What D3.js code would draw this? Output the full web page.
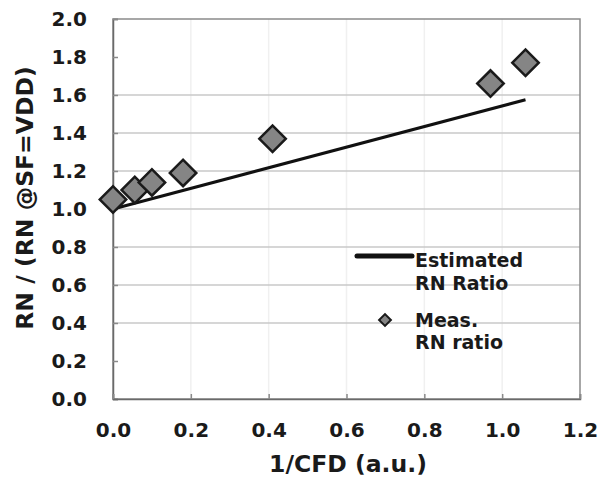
<!DOCTYPE html>
<html>
<head>
<meta charset="utf-8">
<script src="https://cdn.jsdelivr.net/npm/d3@7"></script>
<style>
  body { margin: 0; background: #fff; }
  text { font-family: "DejaVu Sans", Verdana, sans-serif; font-weight: bold; fill: #1a1a1a; }
</style>
</head>
<body>
<div id="chart"></div>
<script>
// measured RN ratio
const measX = [0.0, 0.056, 0.10, 0.18, 0.41, 0.97, 1.06];
const measY = [1.05, 1.10, 1.14, 1.19, 1.37, 1.66, 1.77];
// estimated RN ratio (line)
const estX = [0.0, 1.06];
const estY = [1.0, 1.575];

const xTicks = [0, 0.2, 0.4, 0.6, 0.8, 1.0, 1.2];
const yTicks = [0, 0.2, 0.4, 0.6, 0.8, 1.0, 1.2, 1.4, 1.6, 1.8, 2.0];
const yGrid = [0.4, 0.6, 0.8, 1.0, 1.2, 1.4, 1.6];

const width = 601, height = 481;
const margin = { left: 113, right: 21, top: 19, bottom: 82 };

const svg = d3.select("#chart").append("svg")
    .attr("width", width)
    .attr("height", height);

const x = d3.scaleLinear().domain([0, 1.2]).range([margin.left, width - margin.right]);
const y = d3.scaleLinear().domain([0, 2.0]).range([height - margin.bottom, margin.top]);

// faint vertical grid
svg.append("g")
    .selectAll("line")
    .data(xTicks.slice(1, -1))
    .join("line")
    .attr("x1", d => x(d)).attr("x2", d => x(d))
    .attr("y1", y(0)).attr("y2", y(2))
    .attr("stroke", "#f0f0f0")
    .attr("stroke-width", 1.5);

// horizontal grid
svg.append("g")
    .selectAll("line")
    .data(yGrid)
    .join("line")
    .attr("x1", x(0)).attr("x2", x(1.2))
    .attr("y1", d => y(d)).attr("y2", d => y(d))
    .attr("stroke", "#c8c8c8")
    .attr("stroke-width", 1.5);

// frame
svg.append("rect")
    .attr("x", x(0)).attr("y", y(2))
    .attr("width", x(1.2) - x(0)).attr("height", y(0) - y(2))
    .attr("fill", "none")
    .attr("stroke", "#8a8a8a")
    .attr("stroke-width", 1.5);

// axes
const yAxis = svg.append("g")
    .attr("transform", `translate(${x(0)},0)`)
    .call(d3.axisLeft(y).tickValues(yTicks).tickFormat(d3.format(".1f")).tickSize(-5).tickPadding(26));
const xAxis = svg.append("g")
    .attr("transform", `translate(0,${y(0)})`)
    .call(d3.axisBottom(x).tickValues(xTicks).tickFormat(d3.format(".1f")).tickSize(-5).tickPadding(24));

[yAxis, xAxis].forEach(g => {
    g.select(".domain").attr("stroke", "#6a6a6a").attr("stroke-width", 1.5);
    g.selectAll(".tick line").attr("stroke", "#8a8a8a").attr("stroke-width", 1.5);
    g.selectAll(".tick text")
        .attr("font-family", "DejaVu Sans, Verdana, sans-serif")
        .attr("font-weight", "bold")
        .attr("font-size", 20)
        .attr("fill", "#1a1a1a");
});

// estimated line
const est = estX.map((v, i) => [v, estY[i]]);
svg.append("path")
    .datum(est)
    .attr("d", d3.line().x(d => x(d[0])).y(d => y(d[1])))
    .attr("fill", "none")
    .attr("stroke", "#111")
    .attr("stroke-width", 3);

// measured diamonds
const diamond = d3.symbol().type(d3.symbolSquare).size(350);
svg.append("g")
    .selectAll("path")
    .data(measX.map((v, i) => [v, measY[i]]))
    .join("path")
    .attr("d", diamond)
    .attr("transform", d => `translate(${x(d[0])},${y(d[1])}) rotate(45)`)
    .attr("fill", "#858585")
    .attr("stroke", "#1a1a1a")
    .attr("stroke-width", 2.5);

// legend
const leg = svg.append("g");
leg.append("line")
    .attr("x1", 357).attr("x2", 412)
    .attr("y1", 256).attr("y2", 256)
    .attr("stroke", "#111").attr("stroke-width", 5)
    .attr("stroke-linecap", "round");
leg.append("text").attr("x", 415).attr("y", 267).attr("font-size", 19).text("Estimated");
leg.append("text").attr("x", 415).attr("y", 290).attr("font-size", 19).text("RN Ratio");
leg.append("path")
    .attr("d", d3.symbol().type(d3.symbolSquare).size(70))
    .attr("transform", "translate(385,320) rotate(45)")
    .attr("fill", "#858585")
    .attr("stroke", "#1a1a1a")
    .attr("stroke-width", 2);
leg.append("text").attr("x", 415).attr("y", 327).attr("font-size", 19).text("Meas.");
leg.append("text").attr("x", 415).attr("y", 349).attr("font-size", 19).text("RN ratio");

// axis titles
svg.append("text")
    .attr("x", 348)
    .attr("y", 472)
    .attr("text-anchor", "middle")
    .attr("font-size", 23.5)
    .text("1/CFD (a.u.)");

svg.append("text")
    .attr("transform", "translate(33,198) rotate(-90)")
    .attr("text-anchor", "middle")
    .attr("font-size", 23.5)
    .text("RN / (RN @SF=VDD)");
</script>
</body>
</html>
